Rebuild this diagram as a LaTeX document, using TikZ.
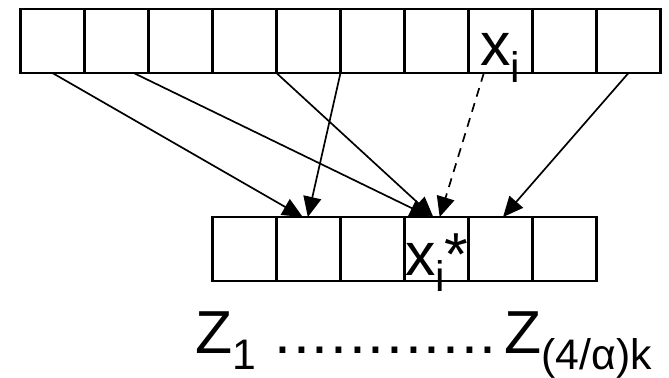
\documentclass[tikz,border=0pt]{standalone}
\usepackage{fontspec}
\setmainfont{Liberation Sans}
\usetikzlibrary{arrows.meta}
\newcommand{\lowsub}[1]{\raisebox{-7.3pt}{\fontsize{19}{20}\selectfont #1}}
\newcommand{\zdot}{\makebox[8.3pt][c]{.}}

\begin{document}
\begin{tikzpicture}[
    cell/.style={draw,line width=1pt,minimum width=1cm,minimum height=1cm,inner sep=0pt,outer sep=0pt},
    lbl/.style={inner sep=0pt,outer sep=0pt,font=\fontsize{27}{30}\selectfont},
    link/.style={line width=0.75pt,-{Triangle[length=9pt,width=8pt]}}]
    \useasboundingbox (0,0) rectangle (10.453,5.891);
    \foreach \i in {1,...,10}
        \node[cell] (t\i) at (\i-0.18,5.25){};
    \foreach \j in {1,...,6}
        \node[cell] (b\j) at (\j+2.82,2){};
    \node[lbl,anchor=base west] (xi) at ([xshift=0.18cm,yshift=0.11cm]t8.south west){x\lowsub{i}};
    \node[lbl,anchor=base west] (xistar) at ([xshift=0.01cm,yshift=0.09cm]b4.south west){x\lowsub{i}*};
    \node[lbl,anchor=base west] (zrange) at ([xshift=-0.26cm,yshift=-1.125cm]b1.south west)
        {Z\lowsub{1} \zdot\zdot\zdot\zdot\zdot\zdot\zdot\zdot\zdot\zdot\zdot\zdot\kern3pt Z\lowsub{(4/α)k}};
    \draw[link] (t1.south)--([xshift=-0.09cm]b2.north);
    \draw[link] ([xshift=0.27cm]t2.south)--([xshift=-0.1cm]b4.north);
    \draw[link] (t4.south east)--([xshift=-0.05cm]b4.north);
    \draw[link] (t5.south east)--([xshift=-0.01cm]b2.north);
    \draw[link,dash pattern=on 4pt off 3pt] ([xshift=0.24cm]t8.south west)--([xshift=0.05cm]b4.north);
    \draw[link] (t10.south)--([xshift=0.04cm]b5.north);
\end{tikzpicture}
\end{document}
